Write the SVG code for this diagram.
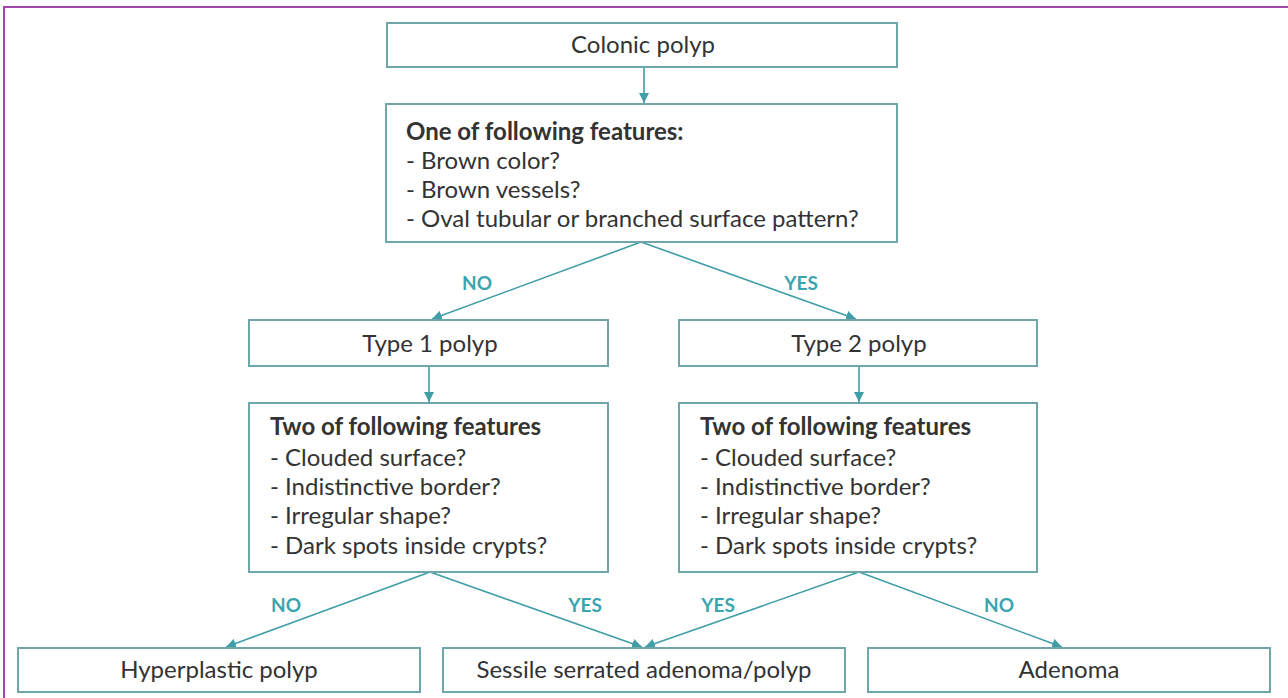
<svg xmlns="http://www.w3.org/2000/svg" width="1288" height="698" viewBox="0 0 1288 698">
<defs>
<style>
.box{fill:#ffffff;stroke:#6ea6a9;stroke-width:2}
.t{font-family:Lato,"Open Sans","Liberation Sans",sans-serif;font-size:24px;fill:#333333}
.c{text-anchor:middle}
.b{font-weight:bold}
.lbl{font-family:Lato,"Open Sans","Liberation Sans",sans-serif;font-size:19px;font-weight:bold;fill:#3aa5ae;text-anchor:middle}
.conn{stroke:#3f9ea6;stroke-width:1.6;fill:none}
</style>
<marker id="ah" viewBox="0 0 10 10" refX="10" refY="5" markerWidth="10" markerHeight="10" markerUnits="userSpaceOnUse" orient="auto">
<path d="M0,0 L10,5 L0,10 z" fill="#3f9ea6"/>
</marker>
</defs>
<rect x="0" y="0" width="1288" height="698" fill="#ffffff"/>
<path d="M4,698 V7 H1288" fill="none" stroke="#a245a8" stroke-width="2"/>

<g id="connectors">
<line class="conn" x1="644" y1="67" x2="644" y2="103" marker-end="url(#ah)"/>
<line class="conn" x1="641" y1="242" x2="432" y2="319" marker-end="url(#ah)"/>
<line class="conn" x1="641" y1="242" x2="856" y2="319" marker-end="url(#ah)"/>
<line class="conn" x1="429" y1="366" x2="429" y2="402" marker-end="url(#ah)"/>
<line class="conn" x1="859" y1="366" x2="859" y2="402" marker-end="url(#ah)"/>
<line class="conn" x1="430" y1="572" x2="226" y2="647" marker-end="url(#ah)"/>
<line class="conn" x1="430" y1="572" x2="642" y2="647" marker-end="url(#ah)"/>
<line class="conn" x1="859" y1="572" x2="645" y2="647" marker-end="url(#ah)"/>
<line class="conn" x1="859" y1="572" x2="1062" y2="647" marker-end="url(#ah)"/>
<text class="lbl" x="477" y="290">NO</text>
<text class="lbl" x="801" y="290">YES</text>
<text class="lbl" x="286" y="612">NO</text>
<text class="lbl" x="585" y="612">YES</text>
<text class="lbl" x="718" y="612">YES</text>
<text class="lbl" x="999" y="612">NO</text>
</g>

<g id="colonic">
<rect class="box" x="387" y="23" width="510" height="44"/>
<text class="t c" x="643" y="53">Colonic polyp</text>
</g>

<g id="one-of">
<rect class="box" x="386" y="104" width="511" height="138"/>
<text class="t b" x="406" y="140">One of following features:</text>
<text class="t" x="406" y="169">- Brown color?</text>
<text class="t" x="406" y="198">- Brown vessels?</text>
<text class="t" x="406" y="227">- Oval tubular or branched surface pattern?</text>
</g>

<g id="type1">
<rect class="box" x="249" y="320" width="359" height="46"/>
<text class="t c" x="430" y="352">Type 1 polyp</text>
</g>

<g id="type2">
<rect class="box" x="679" y="320" width="358" height="46"/>
<text class="t c" x="859" y="352">Type 2 polyp</text>
</g>

<g id="two-of-1">
<rect class="box" x="249" y="403" width="359" height="169"/>
<text class="t b" x="270" y="435">Two of following features</text>
<text class="t" x="270" y="466">- Clouded surface?</text>
<text class="t" x="270" y="495">- Indistinctive border?</text>
<text class="t" x="270" y="524">- Irregular shape?</text>
<text class="t" x="270" y="554">- Dark spots inside crypts?</text>
</g>

<g id="two-of-2">
<rect class="box" x="679" y="403" width="358" height="169"/>
<text class="t b" x="700" y="435">Two of following features</text>
<text class="t" x="700" y="466">- Clouded surface?</text>
<text class="t" x="700" y="495">- Indistinctive border?</text>
<text class="t" x="700" y="524">- Irregular shape?</text>
<text class="t" x="700" y="554">- Dark spots inside crypts?</text>
</g>

<g id="hyperplastic">
<rect class="box" x="18" y="648" width="402" height="44"/>
<text class="t c" x="219" y="678">Hyperplastic polyp</text>
</g>

<g id="sessile">
<rect class="box" x="443" y="648" width="402" height="44"/>
<text class="t c" x="644" y="678">Sessile serrated adenoma/polyp</text>
</g>

<g id="adenoma">
<rect class="box" x="868" y="648" width="402" height="44"/>
<text class="t c" x="1069" y="678">Adenoma</text>
</g>
</svg>
